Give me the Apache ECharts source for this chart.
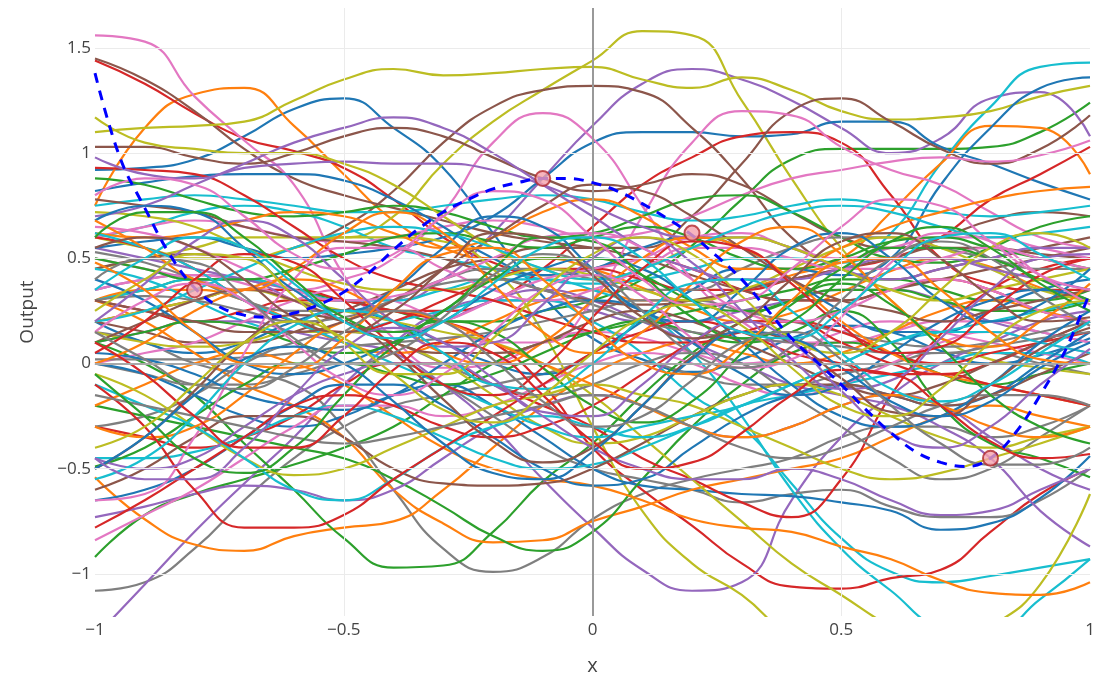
<!DOCTYPE html>
<html>
<head>
<meta charset="utf-8">
<title>GP prior samples</title>
<script src="https://cdn.jsdelivr.net/npm/echarts@6/dist/echarts.min.js"></script>
<style>
  html, body { margin: 0; padding: 0; background: #fff; }
  #chart { width: 1101px; height: 681px; }
</style>
</head>
<body>
<div id="chart"></div>
<script>
// Sample input locations shared by all drawn functions
const xs = [-1, -0.9, -0.8, -0.7, -0.6, -0.5, -0.4, -0.3, -0.2, -0.1, 0,
            0.1, 0.2, 0.3, 0.4, 0.5, 0.6, 0.7, 0.8, 0.9, 1];

// Function draws, one row per curve (colour cycles through the palette)
const samples = [
  [0.92,0.93,0.97,1.08,1.21,1.26,1.12,0.93,0.62,0.32,0.12,0.02,-0.04,0.02,0.12,0.18,0.15,0.06,0.0,0.04,0.12],
  [0.75,1.12,1.28,1.31,1.13,0.90,0.68,0.55,0.50,0.50,0.45,0.36,0.26,0.20,0.24,0.34,0.44,0.50,0.46,0.36,0.30],
  [0.30,0.35,0.40,0.40,0.35,0.30,0.25,0.20,0.20,0.25,0.30,0.40,0.56,0.78,0.97,1.02,1.02,1.02,1.03,1.10,1.24],
  [1.44,1.33,1.19,1.07,1.01,0.93,0.78,0.60,0.48,0.42,0.45,0.50,0.45,0.35,0.30,0.30,0.35,0.40,0.35,0.25,0.20],
  [0.55,0.50,0.45,0.40,0.35,0.30,0.30,0.40,0.62,0.88,1.13,1.33,1.40,1.35,1.25,1.12,1.00,1.07,1.26,1.29,1.08],
  [1.45,1.35,1.20,1.02,0.88,0.80,0.74,0.68,0.62,0.58,0.55,0.50,0.42,0.35,0.30,0.30,0.35,0.40,0.45,0.50,0.55],
  [1.56,1.53,1.27,1.06,0.85,0.42,0.12,-0.02,0.00,0.10,0.15,0.12,0.05,0.00,0.05,0.15,0.20,0.15,0.10,0.05,0.00],
  [-1.08,-1.04,-0.88,-0.65,-0.45,-0.30,-0.20,-0.15,-0.10,-0.05,0.00,0.00,-0.05,-0.10,-0.10,-0.05,0.00,0.05,0.05,0.00,-0.05],
  [0.45,0.50,0.55,0.60,0.60,0.60,0.70,0.95,1.15,1.30,1.44,1.58,1.56,1.25,0.88,0.55,0.30,0.12,0.02,-0.02,-0.05],
  [0.60,0.65,0.72,0.75,0.72,0.65,0.55,0.50,0.45,0.40,0.38,0.40,0.45,0.50,0.50,0.48,0.62,0.95,1.22,1.41,1.43],

  [0.55,0.58,0.60,0.55,0.50,0.52,0.55,0.60,0.70,0.88,1.05,1.10,1.10,1.08,1.09,1.15,1.15,1.03,0.95,0.86,0.78],
  [0.30,0.35,0.35,0.30,0.20,0.10,0.05,0.10,0.20,0.30,0.35,0.30,0.30,0.35,0.42,0.50,0.72,0.95,1.13,1.12,0.90],
  [-0.92,-0.72,-0.62,-0.55,-0.48,-0.40,-0.30,-0.15,0.00,0.10,0.15,0.20,0.25,0.30,0.35,0.40,0.40,0.35,0.30,0.30,0.35],
  [0.30,0.25,0.20,0.25,0.30,0.30,0.25,0.25,0.30,0.45,0.65,0.85,0.98,1.08,1.10,1.05,0.80,0.50,0.38,0.35,0.35],
  [-1.30,-1.05,-0.80,-0.57,-0.35,-0.10,0.10,0.25,0.30,0.30,0.25,0.20,0.20,0.25,0.30,0.35,0.35,0.30,0.20,0.15,0.10],
  [0.45,0.50,0.52,0.50,0.55,0.65,0.82,1.05,1.22,1.30,1.32,1.29,1.12,0.88,0.60,0.45,0.40,0.45,0.50,0.55,0.60],
  [0.50,0.45,0.40,0.35,0.35,0.40,0.50,0.72,1.05,1.19,1.07,0.75,0.40,0.20,0.10,0.10,0.15,0.20,0.20,0.15,0.10],
  [0.15,0.10,0.00,-0.05,-0.10,-0.30,-0.60,-0.88,-0.99,-0.92,-0.74,-0.62,-0.55,-0.50,-0.45,-0.35,-0.30,-0.30,-0.35,-0.30,-0.20],
  [1.10,1.12,1.13,1.15,1.25,1.35,1.40,1.37,1.38,1.40,1.41,1.35,1.31,1.36,1.30,1.20,1.16,1.17,1.20,1.27,1.32],
  [0.45,0.40,0.30,0.20,0.15,0.15,0.20,0.25,0.30,0.30,0.20,0.05,-0.15,-0.30,-0.57,-0.83,-0.99,-1.04,-1.01,-0.97,-0.93],

  [0.20,0.10,0.05,0.10,0.20,0.25,0.20,0.10,0.00,-0.05,0.05,0.20,0.35,0.45,0.45,0.42,0.50,0.85,1.12,1.31,1.36],
  [-0.54,-0.74,-0.86,-0.89,-0.82,-0.78,-0.75,-0.60,-0.40,-0.20,-0.05,0.05,0.10,0.05,0.00,0.05,0.15,0.25,0.30,0.25,0.20],
  [0.10,0.00,-0.15,-0.38,-0.60,-0.83,-0.97,-0.96,-0.80,-0.56,-0.38,-0.15,0.05,0.20,0.30,0.35,0.35,0.30,0.25,0.25,0.30],
  [0.20,0.25,0.30,0.35,0.35,0.30,0.25,0.20,0.10,-0.10,-0.40,-0.60,-0.77,-0.95,-1.06,-1.07,-1.02,-0.98,-0.80,-0.62,-0.50],
  [0.10,0.15,0.20,0.20,0.15,0.10,0.05,-0.10,-0.30,-0.55,-0.78,-0.98,-1.08,-1.04,-0.65,-0.35,-0.15,0.00,0.10,0.20,0.25],
  [0.20,0.15,0.10,0.10,0.15,0.25,0.35,0.45,0.50,0.55,0.55,0.55,0.70,0.95,1.20,1.26,1.15,1.02,0.95,1.02,1.18],
  [0.00,0.05,0.10,0.20,0.30,0.35,0.30,0.20,0.10,0.10,0.30,0.70,1.05,1.20,1.18,1.03,0.92,0.85,0.72,0.60,0.55],
  [0.00,-0.05,-0.10,-0.10,-0.05,0.00,0.00,-0.10,-0.25,-0.40,-0.50,-0.55,-0.60,-0.66,-0.62,-0.60,-0.68,-0.73,-0.73,-0.65,-0.50],
  [0.60,0.55,0.50,0.50,0.55,0.60,0.60,0.58,0.45,0.15,-0.30,-0.70,-0.95,-1.10,-1.30,-1.40,-1.45,-1.40,-1.35,-1.30,-1.30],
  [0.30,0.35,0.40,0.40,0.35,0.30,0.30,0.35,0.40,0.40,0.35,0.25,0.05,-0.25,-0.60,-0.88,-1.08,-1.25,-1.28,-1.12,-0.93],

  [0.00,-0.05,-0.15,-0.25,-0.30,-0.25,-0.15,-0.10,-0.20,-0.35,-0.50,-0.58,-0.60,-0.62,-0.63,-0.66,-0.70,-0.79,-0.76,-0.64,-0.44],
  [0.30,0.20,0.05,-0.10,-0.20,-0.35,-0.60,-0.76,-0.85,-0.84,-0.75,-0.68,-0.60,-0.55,-0.50,-0.45,-0.35,-0.25,-0.20,-0.25,-0.30],
  [-0.20,-0.25,-0.30,-0.35,-0.40,-0.45,-0.55,-0.68,-0.82,-0.89,-0.80,-0.55,-0.30,-0.10,0.05,0.10,0.05,-0.05,-0.10,-0.05,0.00],
  [-0.30,-0.35,-0.40,-0.35,-0.25,-0.10,0.00,0.00,-0.10,-0.20,-0.30,-0.45,-0.55,-0.66,-0.73,-0.55,-0.15,0.14,0.35,0.45,0.50],
  [0.35,0.40,0.42,0.40,0.30,0.20,0.15,0.20,0.30,0.35,0.30,0.20,0.10,0.00,-0.10,-0.15,-0.20,-0.30,-0.45,-0.70,-0.87],
  [1.03,1.03,0.98,0.95,1.00,1.08,1.12,1.08,0.98,0.88,0.82,0.85,0.90,0.85,0.72,0.60,0.55,0.60,0.68,0.72,0.70],
  [0.60,0.65,0.68,0.65,0.60,0.58,0.60,0.65,0.68,0.65,0.60,0.62,0.70,0.80,0.88,0.92,0.96,0.98,0.96,0.99,1.06],
  [0.02,0.02,0.02,0.03,0.05,0.08,0.10,0.12,0.15,0.20,0.25,0.30,0.30,0.25,0.20,0.15,0.10,0.08,0.10,0.15,0.20],
  [0.20,0.25,0.30,0.35,0.30,0.25,0.20,0.15,0.10,0.00,-0.15,-0.35,-0.55,-0.75,-0.95,-1.10,-1.25,-1.35,-1.25,-1.05,-0.62],
  [0.75,0.78,0.80,0.78,0.75,0.72,0.72,0.75,0.78,0.80,0.78,0.72,0.68,0.70,0.75,0.78,0.75,0.72,0.70,0.72,0.75],

  [0.82,0.86,0.89,0.90,0.90,0.87,0.78,0.65,0.50,0.42,0.45,0.55,0.60,0.55,0.40,0.25,0.15,0.15,0.25,0.35,0.40],
  [-0.20,-0.10,0.00,0.05,0.00,-0.10,-0.25,-0.40,-0.50,-0.55,-0.58,-0.65,-0.74,-0.78,-0.80,-0.87,-0.93,-1.03,-1.09,-1.10,-1.04],
  [0.88,0.85,0.78,0.72,0.70,0.72,0.75,0.72,0.65,0.60,0.62,0.70,0.78,0.80,0.72,0.60,0.50,0.48,0.55,0.65,0.70],
  [0.60,0.55,0.45,0.30,0.20,0.15,0.20,0.30,0.40,0.45,0.45,0.40,0.35,0.35,0.40,0.45,0.50,0.60,0.78,0.90,1.03],
  [-0.73,-0.68,-0.62,-0.58,-0.60,-0.65,-0.60,-0.45,-0.30,-0.20,-0.15,-0.20,-0.30,-0.35,-0.30,-0.20,-0.15,-0.20,-0.35,-0.50,-0.60],
  [0.78,0.75,0.72,0.65,0.60,0.58,0.55,0.50,0.42,0.35,0.30,0.28,0.30,0.35,0.40,0.45,0.50,0.55,0.55,0.52,0.50],
  [0.35,0.40,0.42,0.38,0.30,0.20,0.15,0.20,0.30,0.40,0.45,0.50,0.60,0.62,0.55,0.50,0.55,0.60,0.60,0.55,0.50],
  [0.53,0.48,0.40,0.30,0.25,0.25,0.30,0.40,0.45,0.45,0.40,0.35,0.35,0.45,0.55,0.60,0.60,0.55,0.50,0.45,0.45],
  [0.72,0.70,0.65,0.55,0.45,0.38,0.35,0.35,0.40,0.45,0.42,0.35,0.30,0.35,0.45,0.55,0.60,0.55,0.45,0.35,0.30],
  [-0.45,-0.45,-0.42,-0.35,-0.25,-0.20,-0.25,-0.35,-0.45,-0.50,-0.48,-0.40,-0.30,-0.20,-0.15,-0.10,-0.05,0.00,0.05,0.05,0.00],

  [-0.65,-0.60,-0.50,-0.35,-0.20,-0.10,-0.10,-0.20,-0.35,-0.50,-0.58,-0.55,-0.40,-0.25,-0.15,-0.10,-0.15,-0.20,-0.15,0.00,0.15],
  [0.62,0.60,0.62,0.68,0.72,0.70,0.62,0.55,0.60,0.72,0.78,0.70,0.55,0.45,0.45,0.55,0.65,0.72,0.78,0.82,0.84],
  [0.50,0.45,0.40,0.40,0.45,0.52,0.60,0.62,0.58,0.55,0.60,0.65,0.60,0.50,0.45,0.50,0.58,0.60,0.55,0.50,0.45],
  [0.93,0.92,0.90,0.80,0.65,0.50,0.40,0.35,0.30,0.22,0.15,0.10,0.10,0.15,0.20,0.15,0.05,0.00,0.05,0.10,0.15],
  [0.98,0.90,0.88,0.93,0.95,0.96,0.95,0.95,0.92,0.85,0.75,0.65,0.60,0.60,0.55,0.45,0.40,0.45,0.50,0.55,0.55],
  [-0.60,-0.50,-0.35,-0.25,-0.25,-0.35,-0.50,-0.57,-0.58,-0.57,-0.50,-0.38,-0.25,-0.15,-0.10,-0.10,-0.15,-0.20,-0.15,-0.05,0.05],
  [-0.84,-0.72,-0.60,-0.45,-0.30,-0.20,-0.20,-0.25,-0.20,-0.10,0.00,0.05,0.00,-0.10,-0.15,-0.10,0.00,0.10,0.15,0.10,0.05],
  [-0.30,-0.25,-0.15,0.00,0.10,0.15,0.10,0.00,-0.10,-0.15,-0.10,0.00,0.05,0.00,-0.15,-0.30,-0.45,-0.55,-0.50,-0.35,-0.20],
  [0.15,0.10,0.08,0.10,0.15,0.15,0.10,0.00,-0.15,-0.30,-0.38,-0.35,-0.25,-0.15,-0.10,-0.15,-0.25,-0.35,-0.40,-0.35,-0.30],
  [0.62,0.55,0.45,0.30,0.20,0.10,0.00,-0.10,-0.20,-0.30,-0.35,-0.30,-0.25,-0.20,-0.10,0.00,0.10,0.15,0.20,0.25,0.30],

  [0.05,0.02,-0.05,-0.15,-0.20,-0.22,-0.15,0.00,0.15,0.25,0.30,0.25,0.10,-0.05,-0.15,-0.10,0.05,0.20,0.30,0.35,0.30],
  [0.00,0.10,0.25,0.35,0.40,0.35,0.20,0.05,0.00,0.10,0.30,0.50,0.60,0.55,0.40,0.20,0.05,-0.05,-0.10,-0.15,-0.20],
  [-0.49,-0.40,-0.25,-0.10,0.00,0.00,-0.05,-0.10,-0.05,0.05,0.15,0.20,0.15,0.10,0.15,0.25,0.10,-0.20,-0.38,-0.45,-0.54],
  [-0.78,-0.65,-0.50,-0.35,-0.20,-0.15,-0.20,-0.30,-0.35,-0.30,-0.20,-0.05,0.10,0.20,0.20,0.10,0.00,-0.05,0.00,0.10,0.20],
  [0.70,0.75,0.85,0.95,1.05,1.12,1.17,1.12,1.00,0.85,0.70,0.55,0.45,0.40,0.40,0.45,0.50,0.50,0.45,0.40,0.35],
  [0.10,0.20,0.30,0.35,0.30,0.20,0.10,0.05,0.05,0.10,0.20,0.25,0.20,0.10,0.00,-0.10,-0.15,-0.10,0.00,0.10,0.20],
  [-0.65,-0.62,-0.35,0.05,0.40,0.55,0.55,0.45,0.35,0.30,0.35,0.45,0.55,0.55,0.50,0.45,0.45,0.50,0.55,0.50,0.45],
  [0.30,0.32,0.30,0.25,0.20,0.22,0.30,0.38,0.40,0.35,0.28,0.20,0.15,0.12,0.10,0.08,0.05,0.05,0.08,0.12,0.15],
  [-0.05,-0.15,-0.30,-0.45,-0.53,-0.50,-0.40,-0.30,-0.20,-0.15,-0.10,-0.15,-0.20,-0.30,-0.40,-0.50,-0.55,-0.52,-0.45,-0.38,-0.30],
  [-0.10,-0.20,-0.30,-0.45,-0.60,-0.65,-0.55,-0.40,-0.30,-0.25,-0.30,-0.35,-0.30,-0.20,-0.10,0.00,0.10,0.15,0.15,0.10,0.05],

  [0.40,0.30,0.15,0.00,-0.05,0.00,0.10,0.20,0.35,0.45,0.50,0.45,0.30,0.10,-0.10,-0.25,-0.30,-0.25,-0.10,0.10,0.25],
  [-0.30,-0.35,-0.30,-0.15,0.05,0.20,0.25,0.20,0.10,0.00,-0.10,-0.20,-0.30,-0.35,-0.30,-0.20,-0.15,-0.20,-0.30,-0.35,-0.30],
  [0.10,0.15,0.20,0.18,0.10,0.05,0.10,0.25,0.40,0.50,0.50,0.42,0.30,0.25,0.30,0.45,0.55,0.55,0.50,0.40,0.30],
  [-0.10,-0.30,-0.60,-0.78,-0.78,-0.72,-0.55,-0.40,-0.25,-0.10,0.05,0.15,0.20,0.15,0.05,0.00,-0.05,-0.05,-0.10,-0.15,-0.20],
  [-0.45,-0.50,-0.45,-0.30,-0.15,-0.05,0.00,0.00,-0.10,-0.25,-0.40,-0.50,-0.55,-0.55,-0.50,-0.55,-0.65,-0.72,-0.70,-0.60,-0.50],
  [0.30,0.25,0.20,0.15,0.15,0.20,0.30,0.45,0.60,0.75,0.85,0.82,0.70,0.55,0.40,0.30,0.25,0.20,0.25,0.30,0.35],
  [0.65,0.62,0.55,0.45,0.35,0.30,0.32,0.40,0.50,0.60,0.62,0.55,0.40,0.25,0.20,0.25,0.35,0.40,0.35,0.25,0.20],
  [-0.15,-0.20,-0.25,-0.30,-0.35,-0.38,-0.35,-0.30,-0.25,-0.20,-0.15,-0.20,-0.30,-0.40,-0.45,-0.40,-0.30,-0.20,-0.15,-0.15,-0.20],
  [1.17,1.05,1.02,1.00,1.00,0.95,0.85,0.70,0.55,0.45,0.40,0.45,0.55,0.60,0.55,0.45,0.35,0.30,0.35,0.40,0.45],
  [0.20,0.25,0.35,0.45,0.55,0.62,0.65,0.62,0.55,0.45,0.40,0.45,0.55,0.65,0.72,0.75,0.72,0.65,0.60,0.62,0.65],

  [0.68,0.75,0.72,0.55,0.35,0.25,0.35,0.55,0.70,0.65,0.45,0.25,0.20,0.35,0.55,0.62,0.50,0.30,0.20,0.28,0.45],
  [0.68,0.55,0.40,0.35,0.45,0.62,0.72,0.62,0.38,0.15,0.05,0.15,0.38,0.58,0.65,0.52,0.30,0.12,0.08,0.20,0.38],
  [-0.05,-0.25,-0.45,-0.52,-0.40,-0.15,0.08,0.20,0.15,-0.02,-0.20,-0.28,-0.18,0.05,0.28,0.38,0.28,0.08,-0.15,-0.30,-0.38],
  [0.05,0.20,0.40,0.52,0.48,0.30,0.08,-0.10,-0.15,-0.02,0.22,0.45,0.58,0.55,0.38,0.18,0.05,0.08,0.25,0.42,0.50],
  [0.20,0.38,0.58,0.68,0.60,0.40,0.20,0.08,0.10,0.28,0.50,0.60,0.48,0.25,0.02,-0.12,-0.08,0.12,0.35,0.50,0.52],
  [-0.50,-0.35,-0.13,0.10,0.23,0.20,0.05,-0.17,-0.37,-0.47,-0.40,-0.20,0.03,0.15,0.10,-0.07,-0.23,-0.25,-0.10,0.07,0.17],
  [0.15,0.30,0.38,0.30,0.10,-0.08,-0.15,-0.05,0.15,0.35,0.42,0.32,0.12,-0.02,0.02,0.22,0.48,0.62,0.58,0.42,0.28],
  [0.40,0.50,0.48,0.32,0.12,0.00,0.05,0.22,0.42,0.52,0.45,0.25,0.05,-0.02,0.08,0.30,0.50,0.58,0.50,0.32,0.18],
  [0.25,0.40,0.52,0.50,0.32,0.10,-0.05,-0.05,0.12,0.35,0.52,0.60,0.52,0.32,0.12,0.05,0.15,0.35,0.55,0.62,0.55],
  [-0.55,-0.45,-0.25,0.00,0.18,0.25,0.20,0.05,-0.10,-0.12,0.00,0.22,0.38,0.40,0.25,0.05,-0.12,-0.18,-0.10,0.05,0.20],

  [-0.50,-0.35,-0.15,0.02,0.08,0.00,-0.18,-0.38,-0.52,-0.55,-0.42,-0.20,0.02,0.15,0.12,-0.02,-0.18,-0.25,-0.18,-0.02,0.10],
  [0.48,0.35,0.15,0.00,-0.02,0.12,0.35,0.52,0.55,0.40,0.18,0.00,-0.05,0.08,0.30,0.48,0.50,0.35,0.15,0.02,0.00],
  [0.60,0.72,0.72,0.60,0.40,0.22,0.15,0.25,0.45,0.60,0.58,0.42,0.22,0.12,0.20,0.40,0.58,0.65,0.55,0.38,0.25],
  [0.10,-0.05,-0.25,-0.40,-0.40,-0.25,-0.03,0.10,0.05,-0.15,-0.37,-0.50,-0.47,-0.33,-0.15,-0.03,-0.05,-0.20,-0.37,-0.45,-0.43],
  [-0.45,-0.55,-0.55,-0.40,-0.15,0.07,0.17,0.10,-0.07,-0.23,-0.25,-0.10,0.10,0.20,0.10,-0.13,-0.33,-0.40,-0.30,-0.10,0.07],
  [0.55,0.60,0.55,0.40,0.22,0.15,0.25,0.45,0.62,0.60,0.42,0.22,0.12,0.20,0.40,0.58,0.62,0.50,0.32,0.20,0.22],
  [0.80,0.88,0.85,0.70,0.52,0.45,0.52,0.70,0.82,0.78,0.60,0.40,0.28,0.30,0.45,0.65,0.78,0.75,0.58,0.42,0.35],
  [0.15,0.02,-0.10,-0.12,-0.02,0.15,0.25,0.20,0.02,-0.18,-0.30,-0.25,-0.08,0.10,0.15,0.02,-0.20,-0.38,-0.48,-0.48,-0.40],
  [-0.40,-0.30,-0.10,0.10,0.20,0.12,-0.05,-0.22,-0.28,-0.15,0.05,0.22,0.28,0.18,-0.02,-0.20,-0.25,-0.12,0.10,0.25,0.30],
  [0.35,0.50,0.60,0.55,0.38,0.20,0.12,0.20,0.38,0.55,0.60,0.50,0.30,0.15,0.12,0.25,0.45,0.60,0.62,0.52,0.40]
];

// True function on a finer grid
const trueX = [-1,-0.95,-0.9,-0.85,-0.8,-0.75,-0.7,-0.65,-0.6,-0.55,-0.5,-0.45,-0.4,-0.35,-0.3,-0.25,-0.2,-0.15,-0.1,-0.05,
               0,0.05,0.1,0.15,0.2,0.25,0.3,0.35,0.4,0.45,0.5,0.55,0.6,0.65,0.7,0.75,0.8,0.85,0.9,0.95,1];
const trueY = [1.38,0.98,0.74,0.52,0.36,0.27,0.23,0.22,0.24,0.28,0.34,0.43,0.54,0.64,0.72,0.78,0.83,0.86,0.88,0.88,
               0.86,0.82,0.76,0.69,0.61,0.51,0.40,0.26,0.12,0.01,-0.10,-0.22,-0.33,-0.42,-0.47,-0.49,-0.45,-0.33,-0.15,0.06,0.34];

// Observed points
const obsX = [-0.8, -0.1, 0.2, 0.8];
const obsY = [0.35, 0.88, 0.62, -0.45];

// Axis ticks
const xTicks = [-1, -0.5, 0, 0.5, 1];
const yTicks = [-1, -0.5, 0, 0.5, 1, 1.5];

const palette = ['#1f77b4','#ff7f0e','#2ca02c','#d62728','#9467bd',
                 '#8c564b','#e377c2','#7f7f7f','#bcbd22','#17becf'];

const fmt = v => String(v).replace('-', '\u2212');
const FONT = '"Open Sans", "DejaVu Sans", sans-serif';

const series = [];

// Grid and zero lines, beneath the curves
series.push({
  type: 'line', data: [], silent: true, z: 0, animation: false,
  markLine: {
    silent: true, symbol: ['none', 'none'], label: { show: false },
    animation: false,
    data: [
      ...yTicks.filter(v => v !== 0).map(v => ({ yAxis: v, lineStyle: { color: '#ebebeb', width: 1, type: 'solid' } })),
      ...xTicks.filter(v => v !== 0 && Math.abs(v) !== 1).map(v => ({ xAxis: v, lineStyle: { color: '#ebebeb', width: 1, type: 'solid' } })),
      { yAxis: 0, lineStyle: { color: '#a8a8a8', width: 2, type: 'solid' } },
      { xAxis: 0, lineStyle: { color: '#999999', width: 2, type: 'solid' } }
    ]
  }
});

samples.forEach((row, i) => {
  series.push({
    type: 'line',
    data: row.map((v, j) => [xs[j], v]),
    smooth: 0.5,
    showSymbol: false,
    silent: true,
    z: 2,
    animation: false,
    lineStyle: { width: 2.2, color: palette[i % palette.length] }
  });
});

series.push({
  type: 'line',
  data: trueX.map((x, j) => [x, trueY[j]]),
  smooth: 0.4,
  showSymbol: false,
  silent: true,
  z: 5,
  animation: false,
  lineStyle: { width: 3, color: '#0000ff', type: [10, 8] }
});

series.push({
  type: 'scatter',
  data: obsX.map((x, j) => [x, obsY[j]]),
  symbolSize: 15,
  silent: true,
  z: 6,
  animation: false,
  itemStyle: { color: '#f5a3ad', borderColor: '#b0282c', borderWidth: 2 }
});

const chart = echarts.init(document.getElementById('chart'), null, { renderer: 'canvas' });
chart.setOption({
  animation: false,
  backgroundColor: '#ffffff',
  grid: { left: 95, right: 11, top: 8, bottom: 64, containLabel: false },
  xAxis: {
    type: 'value', min: -1, max: 1, interval: 0.5,
    name: 'x', nameLocation: 'middle', nameGap: 40,
    nameTextStyle: { fontFamily: FONT, fontSize: 20, color: '#444' },
    axisLine: { show: false }, axisTick: { show: false },
    splitLine: { show: false },
    axisLabel: { fontFamily: FONT, fontSize: 17, color: '#444', margin: 6, formatter: fmt }
  },
  yAxis: {
    type: 'value', min: -1.2, max: 1.69,
    name: 'Output', nameLocation: 'middle', nameGap: 58, nameRotate: 90,
    nameTextStyle: { fontFamily: FONT, fontSize: 19, color: '#444' },
    axisLine: { show: false },
    axisTick: { show: false, customValues: yTicks },
    splitLine: { show: false },
    axisLabel: { fontFamily: FONT, fontSize: 17, color: '#444', margin: 4, customValues: yTicks, formatter: fmt }
  },
  series: series
});
</script>
</body>
</html>
